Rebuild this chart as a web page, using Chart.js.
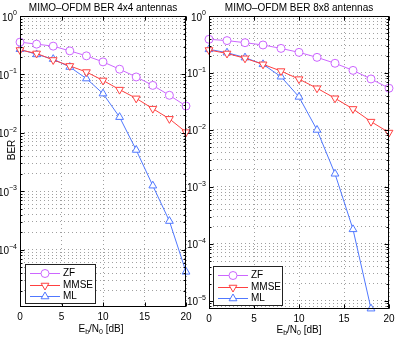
<!DOCTYPE html>
<html>
<head>
<meta charset="utf-8">
<script src="https://cdn.jsdelivr.net/npm/chart.js@4/dist/chart.umd.min.js"></script>
<style>
html,body{margin:0;padding:0;background:#fff;}
#wrap{position:relative;width:399px;height:340px;overflow:hidden;background:#fff;}
canvas{position:absolute;left:0;top:0;}
</style>
</head>
<body>
<div id="wrap">
<canvas id="c1" width="399" height="340"></canvas>
<canvas id="c2" width="399" height="340"></canvas>
</div>
<script>
// ---- data ----
const snr = [0, 2, 4, 6, 8, 10, 12, 14, 16, 18, 20];
const xTicks = [0, 5, 10, 15, 20];
const seriesNames = ['ZF', 'MMSE', 'ML'];
const titles = ['MIMO\u2013OFDM BER 4x4 antennas', 'MIMO\u2013OFDM BER 8x8 antennas'];

const zf4   = [0.357, 0.33, 0.305, 0.253, 0.208, 0.164, 0.123, 0.0906, 0.065, 0.044, 0.0288];
const mmse4 = [0.262, 0.229, 0.177, 0.140, 0.110, 0.079, 0.055, 0.039, 0.026, 0.0174, 0.0103];
const ml4   = [0.27, 0.22, 0.183, 0.134, 0.085, 0.047, 0.0186, 0.0051, 0.00125, 0.00031, 0.000042];

const zf8   = [0.39, 0.37, 0.34, 0.31, 0.27, 0.23, 0.188, 0.148, 0.111, 0.0785, 0.054];
const mmse8 = [0.253, 0.22, 0.181, 0.142, 0.108, 0.078, 0.054, 0.036, 0.0234, 0.014, 0.009];
const ml8   = [0.26, 0.227, 0.186, 0.142, 0.086, 0.038, 0.010, 0.0017, 0.00018, 0.0000073, null];

const colors = ['#cc66ff', '#ff4040', '#5078ff'];
const FONT = '"Liberation Sans", Arial, Helvetica, sans-serif';

function isPow10(v){ const l = Math.log10(v); return Math.abs(l - Math.round(l)) < 1e-9; }

const decor = {
  id: 'decor',
  afterDraw(chart, args, o) {
    const {ctx, chartArea: a, scales: {x, y}} = chart;
    ctx.save();
    const L = Math.round(a.left) + 0.5, R = Math.round(a.right) - 0.5;
    const T = Math.round(a.top) + 0.5, B = Math.round(a.bottom) - 0.5;
    // tick marks (inward)
    ctx.strokeStyle = '#000'; ctx.lineWidth = 1;
    ctx.beginPath();
    y.ticks.forEach(t => {
      const py = Math.round(y.getPixelForValue(t.value)) + 0.5;
      const len = isPow10(t.value) ? 4 : 2;
      ctx.moveTo(L, py); ctx.lineTo(L + len, py);
      ctx.moveTo(R, py); ctx.lineTo(R - len, py);
    });
    x.ticks.forEach(t => {
      const px = Math.round(x.getPixelForValue(t.value)) + 0.5;
      ctx.moveTo(px, B); ctx.lineTo(px, B - 4);
      ctx.moveTo(px, T); ctx.lineTo(px, T + 4);
    });
    ctx.stroke();
    // box
    ctx.strokeRect(L, T, R - L, B - T);

    // y tick labels 10^e
    ctx.fillStyle = '#000';
    for (let e = 0; e >= -8; e--) {
      const v = Math.pow(10, e);
      if (v < y.min * (1 - 1e-9) || v > y.max * (1 + 1e-9)) continue;
      const py = y.getPixelForValue(v);
      const expStr = e === 0 ? '0' : '\u2212' + Math.abs(e);
      ctx.font = '7px ' + FONT;
      const ew = ctx.measureText(expStr).width;
      const expRight = a.left - 3;
      ctx.textAlign = 'left'; ctx.textBaseline = 'alphabetic';
      ctx.fillText(expStr, expRight - ew, py - 1);
      ctx.font = '10px ' + FONT;
      ctx.textAlign = 'right';
      ctx.fillText('10', expRight - ew, py + 4.5);
    }

    // title
    ctx.font = '10px ' + FONT;
    ctx.textAlign = 'center'; ctx.textBaseline = 'alphabetic';
    ctx.fillText(o.title, (a.left + a.right) / 2, 10.5);

    // x-axis title: E_b/N_0 [dB]
    const parts = [['E', 10, 0], ['b', 7, 2.5], ['/N', 10, 0], ['0', 7, 2.5], [' [dB]', 10, 0]];
    let total = 0;
    parts.forEach(p => { ctx.font = p[1] + 'px ' + FONT; total += ctx.measureText(p[0]).width; });
    let cx = o.xTitleX - total / 2;
    ctx.textAlign = 'left';
    parts.forEach(p => {
      ctx.font = p[1] + 'px ' + FONT;
      ctx.fillText(p[0], cx, o.xTitleY + p[2]);
      cx += ctx.measureText(p[0]).width;
    });

    // y-axis title
    if (o.yTitle) {
      ctx.save();
      ctx.translate(o.yTitleX, o.yTitleY);
      ctx.rotate(-Math.PI / 2);
      ctx.font = '10px ' + FONT;
      ctx.textAlign = 'center'; ctx.textBaseline = 'middle';
      ctx.fillText(o.yTitle, 0, 0);
      ctx.restore();
    }

    // legend
    const lg = o.legend;
    ctx.fillStyle = '#fff';
    ctx.fillRect(lg.x, lg.y, lg.w, lg.h);
    ctx.strokeStyle = '#222'; ctx.lineWidth = 1;
    ctx.strokeRect(lg.x + 0.5, lg.y + 0.5, lg.w, lg.h);
    chart.data.datasets.forEach((ds, i) => {
      const ry = lg.y + 9 + i * 11.5;
      ctx.strokeStyle = ds.borderColor; ctx.lineWidth = 1;
      ctx.beginPath();
      ctx.moveTo(lg.x + 5, Math.round(ry) + 0.5); ctx.lineTo(lg.x + 35, Math.round(ry) + 0.5);
      ctx.stroke();
      if (Chart.helpers && Chart.helpers.drawPoint) {
        ctx.fillStyle = '#fff';
        Chart.helpers.drawPoint(ctx, {
          pointStyle: ds.pointStyle, rotation: ds.pointRotation || 0,
          radius: ds.pointRadius, borderWidth: 1
        }, lg.x + 20, Math.round(ry) + 0.5);
      }
      ctx.fillStyle = '#000';
      ctx.font = '10px ' + FONT;
      ctx.textAlign = 'left'; ctx.textBaseline = 'middle';
      ctx.fillText(ds.label, lg.x + 38, ry + 0.5);
    });
    ctx.restore();
  }
};

function makeDatasets(zf, mmse, ml) {
  const vals = [zf, mmse, ml];
  const styles = [['circle', 0, 4], ['triangle', 180, 4.5], ['triangle', 0, 4.5]];
  return vals.map((v, i) => ({
    label: seriesNames[i],
    data: snr.map((s, k) => ({x: s, y: v[k]})),
    borderColor: colors[i],
    backgroundColor: colors[i],
    borderWidth: 1,
    pointStyle: styles[i][0],
    pointRotation: styles[i][1],
    pointRadius: styles[i][2],
    pointBorderWidth: 1,
    pointBackgroundColor: '#fff',
    pointBorderColor: colors[i],
    tension: 0,
    spanGaps: false,
    clip: false
  }));
}

function makeChart(id, title, zf, mmse, ml, yMin, pad, bottomH, extra) {
  return new Chart(document.getElementById(id), {
    type: 'line',
    data: { datasets: makeDatasets(zf, mmse, ml) },
    options: {
      responsive: false,
      animation: false,
      devicePixelRatio: 1,
      layout: { padding: pad },
      plugins: {
        legend: { display: false },
        tooltip: { enabled: false },
        title: { display: false },
        decor: Object.assign({ title: title }, extra)
      },
      scales: {
        x: {
          type: 'linear', min: 0, max: 20,
          afterBuildTicks: s => { s.ticks = xTicks.map(v => ({value: v})); },
          grid: { color: '#a0a0a0', lineWidth: 1, drawTicks: false },
          border: { display: false, dash: [1, 3] },
          ticks: { color: '#000', font: { size: 10, family: FONT }, padding: 4, maxRotation: 0 },
          afterFit: s => { s.height = bottomH; }
        },
        y: {
          type: 'logarithmic', min: yMin, max: 1,
          afterBuildTicks: s => {
            const t = [];
            for (let e = -7; e <= 0; e++) for (let m = 1; m <= 9; m++) {
              const v = m * Math.pow(10, e);
              if (v >= s.min && v <= s.max * (1 + 1e-9)) t.push({value: v});
            }
            s.ticks = t;
          },
          grid: { color: '#a0a0a0', lineWidth: 1, drawTicks: false },
          border: { display: false, dash: [1, 3] },
          ticks: { display: false },
          afterFit: s => { s.width = 0; }
        }
      }
    },
    plugins: [decor]
  });
}

makeChart('c1', titles[0], zf4, mmse4, ml4, 1.05e-5,
  { left: 20, right: 213, top: 16, bottom: 0 }, 33,
  { xTitleX: 101, xTitleY: 331.5, yTitle: 'BER', yTitleX: 12, yTitleY: 150,
    legend: { x: 25, y: 264, w: 70, h: 39 } });

makeChart('c2', titles[1], zf8, mmse8, ml8, 7.2e-6,
  { left: 209, right: 10, top: 16, bottom: 0 }, 31,
  { xTitleX: 299, xTitleY: 332.5, yTitle: null,
    legend: { x: 213, y: 266, w: 69, h: 39 } });
</script>
</body>
</html>
